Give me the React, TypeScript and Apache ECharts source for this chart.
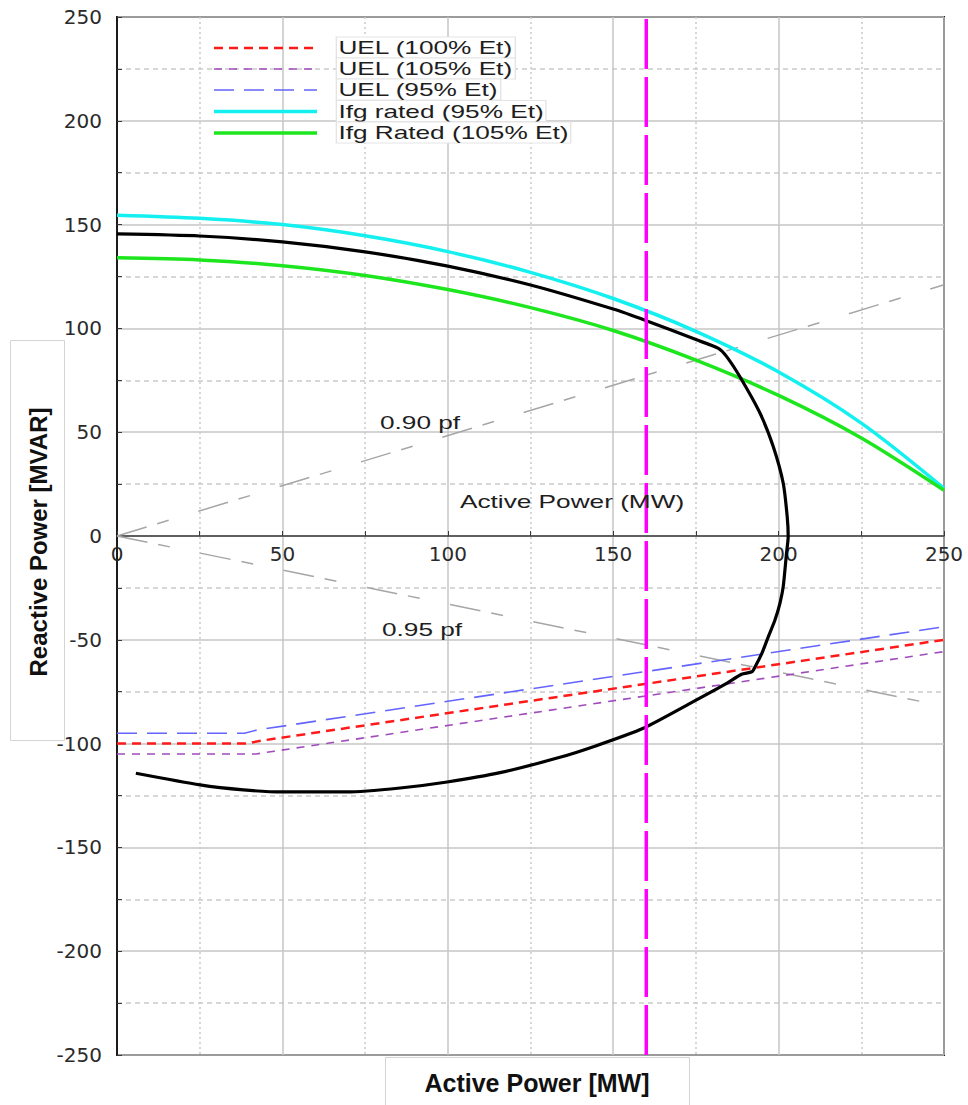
import React, { useEffect, useRef } from "react";
import * as echarts from "echarts";

// Field-current limit at 95 % terminal voltage (MW, MVAR)
const ifg95P = [0, 25, 50, 75, 100, 125, 150, 175, 200, 225, 250];
const ifg95Q = [154.5, 153, 150, 144.6, 137, 127, 114.4, 98.6, 79, 54.4, 23];

// Field-current limit at 105 % terminal voltage
const ifg105P = [0, 25, 50, 75, 100, 125, 150, 175, 200, 225, 250];
const ifg105Q = [134, 133, 130.2, 125.5, 118.7, 110, 99, 84.7, 67.7, 47.2, 22];

// Unit capability curve, traced from the top-left round to the bottom-left
const capP = [
  0, 25, 50, 75, 100, 125, 150, 160, 175, 181.8, 184.3, 188.3, 194.4, 198.4,
  201.4, 202.6, 202.9, 202.4, 201.4, 200.4, 198.9, 196.9, 194.9, 192.9, 191.9,
  188.8, 184.3, 174.2, 159.1, 144, 133.9, 115.8, 99.8, 85.6, 69.5, 50, 38.2,
  25.1, 5.7,
];
const capQ = [
  145.5, 144.5, 141.7, 136.9, 130, 120.9, 109.3, 103.7, 94.6, 90.4, 86.4, 76.7,
  59.1, 43, 25.4, 9.3, -0.3, -8.2, -24.4, -32.4, -40.5, -48.5, -56.7, -63,
  -65.4, -66.6, -71, -79.8, -92.6, -101.5, -106.6, -114, -118.5, -121.4,
  -123.3, -123.3, -122.3, -119.9, -114.3,
];

// Under-excitation limiters
const uel100P = [0, 39, 44, 250];
const uel100Q = [-100, -100, -98.5, -50];
const uel105P = [0, 42, 47, 250];
const uel105Q = [-105, -105, -103.8, -55.7];
const uel95P = [0, 38.5, 42.5, 250];
const uel95Q = [-95, -95, -93.4, -43.7];

// Power-factor reference lines
const pf090P = [0, 250];
const pf090Q = [0, 121];
const pf095P = [0, 250];
const pf095Q = [0, -82];

// Active-power limit
const limitP = [160, 160];
const limitQ = [-250, 250];

const xMin = 0;
const xMax = 250;
const yMin = -250;
const yMax = 250;
const tickStep = 50;

const legendNames = [
  "UEL (100% Et)",
  "UEL (105% Et)",
  "UEL (95% Et)",
  "Ifg rated (95% Et)",
  "Ifg Rated (105% Et)",
];

const pairs = (p: number[], q: number[]) => p.map((v, i) => [v, q[i]]);

const RED = "#ff1a1a";
const PURPLE = "#a04cbc";
const BLUE = "#6464ff";
const CYAN = "#14f0f0";
const GREEN = "#1ee61e";
const GREY_PF = "#a6a6a6";

const legendStyles = [
  { color: RED, width: 2.5, dash: [9, 6] },
  { color: PURPLE, width: 1.6, dash: [8, 7] },
  { color: BLUE, width: 1.6, dash: [20, 10] },
  { color: CYAN, width: 3.5, dash: null as number[] | null },
  { color: GREEN, width: 3.5, dash: null as number[] | null },
];

const TEXT_FONT = "Liberation Sans, Arial, sans-serif";
const STRETCH = 1.38;

// Plot-area geometry in pixels
const GRID_LEFT = 117;
const GRID_TOP = 17;
const GRID_W = 827;
const GRID_H = 1038;

export default function App() {
  const ref = useRef<HTMLDivElement>(null);

  useEffect(() => {
    if (!ref.current) return;
    const chart = echarts.init(ref.current, undefined, { renderer: "svg" });

    const line = (
      name: string,
      data: number[][],
      color: string,
      width: number,
      type: any,
      z: number
    ) => ({
      type: "line",
      name,
      data,
      symbol: "none",
      showSymbol: false,
      silent: true,
      z,
      lineStyle: { color, width, type },
      itemStyle: { color },
    });

    const legendGraphics: any[] = [];
    const rowY = [47.5, 68.5, 89.5, 111, 132.5];
    legendNames.forEach((name, i) => {
      const st = legendStyles[i];
      legendGraphics.push({
        type: "line",
        shape: { x1: 214, y1: rowY[i] + 0.5, x2: 317, y2: rowY[i] + 0.5 },
        style: {
          stroke: st.color,
          lineWidth: st.width,
          lineDash: st.dash || undefined,
        },
        z: 20,
      });
      legendGraphics.push({
        type: "text",
        x: 337,
        y: rowY[i],
        scaleX: STRETCH,
        style: {
          text: name,
          font: `19px ${TEXT_FONT}`,
          fill: "#1e1e1e",
          verticalAlign: "middle",
          align: "left",
          backgroundColor: "#ffffff",
          borderColor: "#e4e4e4",
          borderWidth: 1,
          padding: [1, 1, 0, 1],
        },
        z: 21,
      });
    });

    const annotation = (text: string, x: number, y: number) => ({
      type: "text",
      x,
      y,
      scaleX: STRETCH,
      style: {
        text,
        font: `19px ${TEXT_FONT}`,
        fill: "#1e1e1e",
        verticalAlign: "middle",
        align: "left",
      },
      z: 20,
    });

    // The horizontal axis sits on Q = 0, i.e. half-way up the plot
    const zeroOffset = -(GRID_H * (0 - yMin)) / (yMax - yMin);

    chart.setOption({
      animation: false,
      backgroundColor: "#ffffff",
      grid: {
        left: GRID_LEFT,
        top: GRID_TOP,
        width: GRID_W,
        height: GRID_H,
        show: true,
        borderColor: "#1c1c1c",
        borderWidth: 2,
        backgroundColor: "transparent",
        containLabel: false,
      },
      xAxis: {
        type: "value",
        min: xMin,
        max: xMax,
        interval: tickStep,
        position: "bottom",
        offset: zeroOffset,
        axisLine: {
          onZero: false,
          lineStyle: { color: "#3a3a3a", width: 1.5 },
        },
        axisTick: { inside: true, length: 5, lineStyle: { color: "#3a3a3a" } },
        minorTick: {
          show: true,
          splitNumber: 2,
          length: 5,
          lineStyle: { color: "#3a3a3a" },
        },
        axisLabel: {
          fontSize: 20,
          fontFamily: "DejaVu Sans",
          color: "#2a2a2a",
          margin: 8,
          showMinLabel: true,
          showMaxLabel: true,
        },
        splitLine: { show: true, lineStyle: { color: "#c6c6c6", width: 1.5 } },
        minorSplitLine: {
          show: true,
          lineStyle: { color: "#cacaca", width: 1.5, type: [2, 3] },
        },
      },
      yAxis: {
        type: "value",
        min: yMin,
        max: yMax,
        interval: tickStep,
        axisLine: {
          show: true,
          onZero: false,
          lineStyle: { color: "#1c1c1c", width: 2 },
        },
        axisTick: { inside: true, length: 5, lineStyle: { color: "#3a3a3a" } },
        minorTick: {
          show: true,
          splitNumber: 2,
          length: 5,
          lineStyle: { color: "#3a3a3a" },
        },
        axisLabel: {
          fontSize: 20,
          fontFamily: "DejaVu Sans",
          color: "#2a2a2a",
          margin: 15,
          showMinLabel: true,
          showMaxLabel: true,
        },
        splitLine: { show: true, lineStyle: { color: "#c6c6c6", width: 1.5 } },
        minorSplitLine: {
          show: true,
          lineStyle: { color: "#cacaca", width: 1.5, type: [5, 4] },
        },
      },
      series: [
        line("0.90 pf", pairs(pf090P, pf090Q), GREY_PF, 1.5, [31, 11, 12, 31], 2),
        line("0.95 pf", pairs(pf095P, pf095Q), GREY_PF, 1.5, [31, 11, 12, 31], 2),
        line(legendNames[2], pairs(uel95P, uel95Q), BLUE, 1.6, [20, 10], 3),
        line(legendNames[0], pairs(uel100P, uel100Q), RED, 2.5, [9, 6], 3),
        line(legendNames[1], pairs(uel105P, uel105Q), PURPLE, 1.6, [8, 7], 3),
        {
          ...line(legendNames[3], pairs(ifg95P, ifg95Q), CYAN, 3.5, "solid", 4),
          smooth: 0.3,
        },
        {
          ...line(legendNames[4], pairs(ifg105P, ifg105Q), GREEN, 3.5, "solid", 4),
          smooth: 0.3,
        },
        {
          ...line("Capability", pairs(capP, capQ), "#000000", 3.2, "solid", 5),
          smooth: 0.22,
        },
        line("MW limit", pairs(limitP, limitQ), "#ff00ff", 3.5, [50, 8], 6),
      ],
      graphic: [
        ...legendGraphics,
        annotation("0.90 pf", 380, 422),
        annotation("0.95 pf", 382, 629),
        annotation("Active Power (MW)", 460, 501),
        {
          type: "rect",
          shape: { x: 10.5, y: 340.5, width: 54, height: 400 },
          style: { fill: "#ffffff", stroke: "#d4d4d4", lineWidth: 1 },
          z: 1,
        },
        {
          type: "text",
          x: 38,
          y: 542,
          rotation: Math.PI / 2,
          style: {
            text: "Reactive Power [MVAR]",
            font: `bold 24px ${TEXT_FONT}`,
            fill: "#111111",
            align: "center",
            verticalAlign: "middle",
          },
          z: 2,
        },
        {
          type: "rect",
          shape: { x: 385.5, y: 1057.5, width: 304, height: 60 },
          style: { fill: "#ffffff", stroke: "#d4d4d4", lineWidth: 1 },
          z: 1,
        },
        {
          type: "text",
          x: 537,
          y: 1083,
          style: {
            text: "Active Power [MW]",
            font: `bold 25px ${TEXT_FONT}`,
            fill: "#111111",
            align: "center",
            verticalAlign: "middle",
          },
          z: 2,
        },
      ],
    });

    return () => chart.dispose();
  }, []);

  return (
    <div
      ref={ref}
      style={{ position: "absolute", left: 0, top: 0, width: 968, height: 1105 }}
    />
  );
}
